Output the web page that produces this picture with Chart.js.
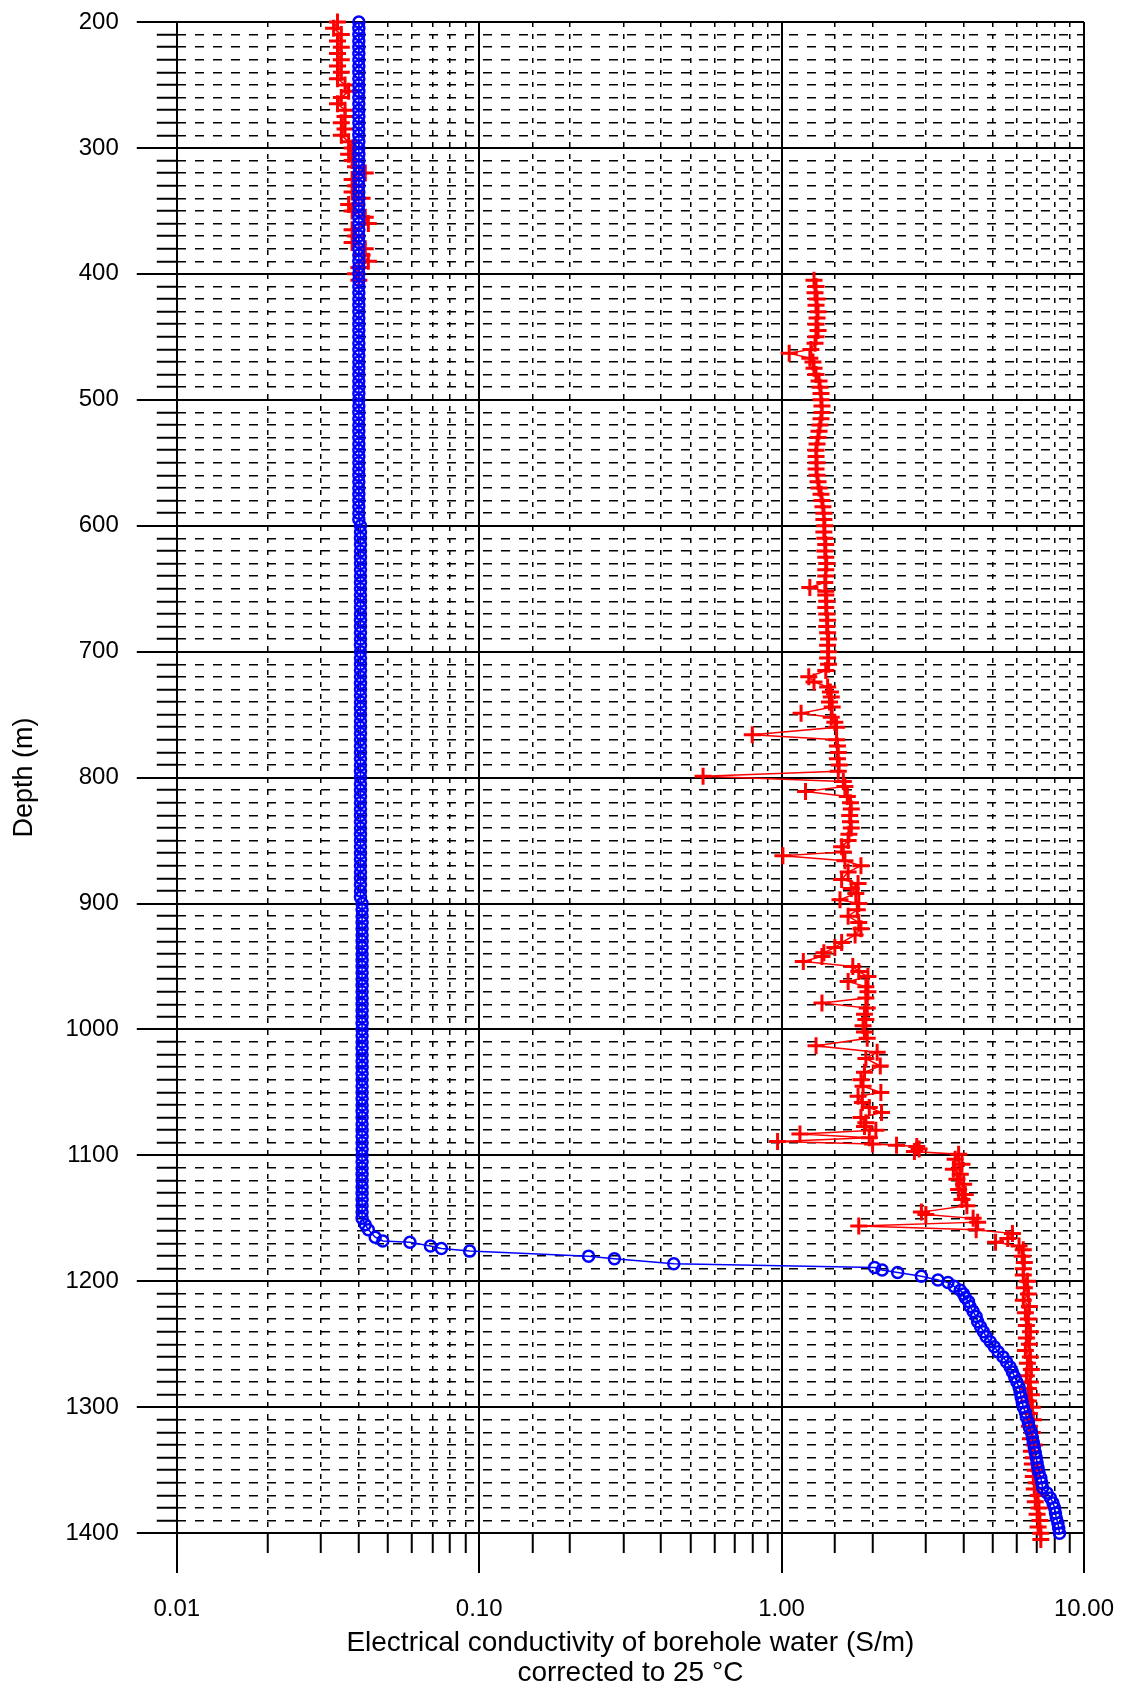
<!DOCTYPE html>
<html>
<head>
<meta charset="utf-8">
<script src="https://cdn.jsdelivr.net/npm/chart.js@4.4.1/dist/chart.umd.min.js"></script>
<style>
  html, body { margin: 0; padding: 0; background: #fff; }
</style>
</head>
<body>
<canvas id="ECCHART" width="1123" height="1686"></canvas>
<script>
const blueUpperDepth = [
  200,205,210,215,220,225,230,235,240,245,250,255,260,265,270,275,280,285,290,295,
  300,305,310,315,320,325,330,335,340,345,350,355,360,365,370,375,380,385,390,395,
  400,405,410,415,420,425,430,435,440,445,450,455,460,465,470,475,480,485,490,495,
  500,505,510,515,520,525,530,535,540,545,550,555,560,565,570,575,580,585,590,595,
  600,605,610,615,620,625,630,635,640,645,650,655,660,665,670,675,680,685,690,695,
  700,705,710,715,720,725,730,735,740,745,750,755,760,765,770,775,780,785,790,795,
  800,805,810,815,820,825,830,835,840,845,850,855,860,865,870,875,880,885,890,895,
  900,905,910,915,920,925,930,935,940,945,950,955,960,965,970,975,980,985,990,995,
  1000,1005,1010,1015,1020,1025,1030,1035,1040,1045,1050,1055,1060,1065,1070,1075,1080,1085,1090,1095,
  1100,1105,1110,1115,1120,1125,1130,1135,1140,1145,1150,1155
];
const blueUpperEC = [
  0.040,0.040,0.040,0.040,0.040,0.040,0.040,0.040,0.040,0.040,0.040,0.040,0.040,0.040,0.040,0.040,0.040,0.040,0.040,0.040,
  0.040,0.040,0.040,0.040,0.040,0.040,0.040,0.040,0.040,0.040,0.040,0.040,0.040,0.040,0.040,0.040,0.040,0.040,0.040,0.040,
  0.040,0.040,0.040,0.040,0.040,0.040,0.040,0.040,0.040,0.040,0.040,0.040,0.040,0.040,0.040,0.040,0.040,0.040,0.040,0.040,
  0.040,0.040,0.040,0.040,0.040,0.040,0.040,0.040,0.040,0.040,0.040,0.040,0.040,0.040,0.040,0.040,0.040,0.040,0.040,0.040,
  0.0405,0.0405,0.0405,0.0405,0.0405,0.0405,0.0405,0.0405,0.0405,0.0405,0.0405,0.0405,0.0405,0.0405,0.0405,0.0405,0.0405,0.0405,0.0405,0.0405,
  0.0405,0.0405,0.0405,0.0405,0.0405,0.0405,0.0405,0.0405,0.0405,0.0405,0.0405,0.0405,0.0405,0.0405,0.0405,0.0405,0.0405,0.0405,0.0405,0.0405,
  0.0405,0.0405,0.0405,0.0405,0.0405,0.0405,0.0405,0.0405,0.0405,0.0405,0.0405,0.0405,0.0405,0.0405,0.0405,0.0405,0.0405,0.0405,0.0405,0.0405,
  0.041,0.041,0.041,0.041,0.041,0.041,0.041,0.041,0.041,0.041,0.041,0.041,0.041,0.041,0.041,0.041,0.041,0.041,0.041,0.041,
  0.041,0.041,0.041,0.041,0.041,0.041,0.041,0.041,0.041,0.041,0.041,0.041,0.041,0.041,0.041,0.041,0.041,0.041,0.041,0.041,
  0.041,0.041,0.041,0.041,0.041,0.041,0.041,0.041,0.041,0.041,0.041,0.042
];
const blueLowerDepth = [
  1159,1165,1168,1169,1172,1174,1176,1180,1182,1186,
  1189,1191,1193,1196,1199,1201,1204,1207,1210,1213,
  1216,1220,1224,1228,1232,1236,1240,1244,1248,1252,
  1256,1260,1264,1268,1272,1276,1280,1284,1288,1292,
  1296,1300,1304,1308,1312,1316,1320,1324,1328,1332,
  1336,1340,1344,1348,1352,1356,1360,1364,1368,1372,
  1376,1380,1384,1388,1392,1396,1400
];
const blueLowerEC = [
  0.043,0.0453,0.048,0.059,0.069,0.075,0.093,0.23,0.28,0.44,
  2.03,2.15,2.42,2.90,3.29,3.55,3.72,3.90,4.00,4.05,
  4.15,4.20,4.30,4.40,4.45,4.55,4.65,4.75,4.90,5.05,
  5.20,5.40,5.55,5.70,5.80,5.90,6.00,6.10,6.15,6.20,
  6.25,6.30,6.40,6.45,6.55,6.60,6.70,6.75,6.80,6.85,
  6.90,6.95,7.00,7.05,7.10,7.20,7.25,7.30,7.55,7.75,
  7.90,8.00,8.05,8.10,8.20,8.25,8.30
];
const redTopDepth = [
  200,205,210,215,220,225,230,235,240,245,
  250,255,260,265,270,275,280,285,290,295,
  300,305,310,315,320,325,330,335,340,345,
  350,355,360,365,370,375,380,385,390,395,
  400,405
];
const redTopEC = [
  0.034,0.033,0.035,0.034,0.035,0.034,0.035,0.034,0.035,0.034,
  0.036,0.037,0.035,0.034,0.036,0.036,0.035,0.036,0.035,0.037,
  0.038,0.037,0.038,0.039,0.042,0.038,0.039,0.038,0.041,0.037,
  0.038,0.042,0.043,0.038,0.039,0.038,0.042,0.041,0.043,0.040,
  0.039,0.040
];
const redMainDepth = [
  405,410,415,420,425,430,435,440,445,450,
  455,460,463,467,470,475,480,485,490,495,
  500,505,510,515,520,525,530,535,540,545,
  550,555,560,565,570,575,580,585,590,595,
  600,605,610,615,620,625,630,635,640,645,
  649,652,655,660,665,670,675,680,685,690,
  695,700,705,710,715,720,724,728,732,736,
  740,744,749,752,756,760,766,770,775,780,
  785,790,795,799,803,807,811,815,820,825,
  830,835,840,845,850,855,859,862,866,870,
  875,881,884,888,892,897,900,905,910,915,
  920,925,931,935,939,942,946,950,954,958,
  962,966,970,975,979,983,988,992,997,1002,
  1007,1013,1018,1023,1029,1034,1040,1045,1050,1053,
  1058,1062,1066,1070,1074,1077,1080,1083,1086,1089,
  1091,1092,1093,1095,1097,1099,1103,1107,1111,1115,
  1119,1123,1127,1131,1135,1140,1145,1147,1150,1153,
  1156,1159,1162,1166,1169,1172,1175,1180,1185,1190,
  1195,1200,1205,1210,1215,1220,1225,1230,1235,1240,
  1245,1250,1255,1260,1265,1270,1275,1280,1285,1290,
  1295,1300,1305,1310,1315,1320,1325,1330,1335,1340,
  1345,1350,1355,1360,1365,1370,1375,1380,1385,1390,
  1395,1400,1405
];
const redMainEC = [
  1.28,1.30,1.29,1.31,1.30,1.32,1.31,1.30,1.32,1.30,
  1.29,1.25,1.06,1.24,1.27,1.28,1.30,1.33,1.34,1.35,
  1.35,1.36,1.36,1.35,1.34,1.33,1.32,1.31,1.30,1.30,
  1.31,1.30,1.31,1.32,1.33,1.35,1.36,1.37,1.38,1.38,
  1.39,1.38,1.39,1.40,1.39,1.40,1.41,1.40,1.40,1.39,
  1.24,1.40,1.40,1.41,1.40,1.41,1.42,1.41,1.42,1.43,
  1.42,1.43,1.42,1.43,1.40,1.23,1.28,1.42,1.45,1.46,
  1.44,1.47,1.16,1.46,1.50,1.52,0.80,1.52,1.53,1.54,
  1.53,1.55,1.54,0.55,1.60,1.62,1.20,1.65,1.69,1.70,
  1.68,1.69,1.70,1.67,1.66,1.58,1.60,1.01,1.62,1.83,
  1.66,1.58,1.79,1.70,1.76,1.56,1.80,1.78,1.66,1.80,
  1.83,1.75,1.58,1.50,1.38,1.36,1.18,1.72,1.80,1.93,
  1.66,1.90,1.93,1.90,1.36,1.92,1.88,1.90,1.86,1.88,
  1.92,1.30,2.07,1.90,2.12,1.88,1.83,1.86,2.13,1.79,
  1.85,1.95,2.14,1.83,1.90,1.88,2.05,1.15,1.95,0.97,
  2.00,2.40,2.80,2.85,2.75,3.85,3.75,3.95,3.70,3.90,
  3.80,4.00,3.85,4.05,3.95,4.10,2.90,3.00,4.30,4.45,
  1.80,4.40,5.80,5.60,5.10,6.10,6.30,6.25,6.35,6.30,
  6.30,6.50,6.35,6.55,6.30,6.60,6.40,6.55,6.45,6.65,
  6.45,6.60,6.40,6.65,6.50,6.70,6.45,6.65,6.55,6.70,
  6.55,6.75,6.60,6.80,6.60,6.75,6.65,6.85,6.70,6.80,
  6.75,6.90,6.80,6.95,6.85,7.05,6.90,7.10,7.00,7.15,
  7.05,7.20,7.20
];

const FONT = "'Liberation Sans', Arial, sans-serif";
Chart.defaults.font.family = FONT;
Chart.defaults.color = '#000';

const isDecade = v => Math.abs(Math.log10(v) - Math.round(Math.log10(v))) < 1e-6;
const isHundred = v => Math.round(v) % 100 === 0;
const toPoints = (depths, values) => depths.map((d, i) => ({x: values[i], y: d}));

const redStyle = {
  showLine: true,
  borderColor: 'rgb(255, 0, 0)',
  borderWidth: 1.5,
  pointStyle: 'cross',
  pointRadius: 8.5,
  pointBorderWidth: 3,
  pointBorderColor: 'rgb(255, 0, 0)',
  clip: false,
  order: 1
};

const ctx = document.getElementById('ECCHART');

const ec_chart = new Chart(ctx, {
  type: 'scatter',
  data: {
    datasets: [{
      label: 'EC profile',
      data: toPoints(blueUpperDepth.concat(blueLowerDepth), blueUpperEC.concat(blueLowerEC)),
      showLine: true,
      borderColor: 'rgb(0, 0, 255)',
      borderWidth: 1.5,
      pointStyle: 'circle',
      pointRadius: 5.5,
      pointBorderWidth: 2.5,
      pointBorderColor: 'rgb(0, 0, 255)',
      pointBackgroundColor: 'rgba(0, 0, 0, 0)',
      clip: false,
      order: 0
    }, Object.assign({
      label: 'EC samples upper',
      data: toPoints(redTopDepth, redTopEC)
    }, redStyle), Object.assign({
      label: 'EC samples',
      data: toPoints(redMainDepth, redMainEC)
    }, redStyle)]
  },
  options: {
    responsive: false,
    animation: false,
    layout: {
      autoPadding: false,
      padding: {top: 22, right: 39, left: 0, bottom: 0}
    },
    plugins: {
      legend: {display: false},
      tooltip: {enabled: false}
    },
    scales: {
      x: {
        type: 'logarithmic',
        position: 'bottom',
        min: 0.01,
        max: 10,
        border: {
          display: false,
          dash: c => (c.tick && !isDecade(c.tick.value)) ? [5, 7] : []
        },
        grid: {
          color: '#000',
          lineWidth: c => (c.tick && isDecade(c.tick.value)) ? 2 : 1.5,
          // tick marks: 40px at decades, 20px otherwise (rest of the length is a gap)
          tickLength: 53,
          tickColor: '#000',
          tickWidth: 2,
          tickBorderDash: c => (c.tick && isDecade(c.tick.value)) ? [40, 100] : [20, 100],
          tickBorderDashOffset: 0
        },
        ticks: {
          autoSkip: false,
          maxRotation: 0,
          minRotation: 0,
          padding: 9,
          font: {size: 24},
          callback: v => isDecade(v) ? v.toFixed(2) : ''
        },
        title: {
          display: true,
          text: ['Electrical conductivity of borehole water (S/m)', 'corrected to 25 \u00B0C'],
          font: {size: 28, lineHeight: 30 / 28},
          padding: {top: -5, bottom: -2}
        }
      },
      y: {
        type: 'linear',
        reverse: true,
        min: 200,
        max: 1400,
        border: {
          display: false,
          dash: c => (c.tick && !isHundred(c.tick.value)) ? [9, 9] : []
        },
        grid: {
          color: '#000',
          lineWidth: c => (c.tick && isHundred(c.tick.value)) ? 2 : 1.5,
          tickLength: 40,
          tickColor: '#000',
          tickWidth: 2,
          // minor ticks: only the half next to the axis
          tickBorderDash: c => (c.tick && isHundred(c.tick.value)) ? [] : [20, 20],
          tickBorderDashOffset: c => (c.tick && isHundred(c.tick.value)) ? 0 : 20
        },
        ticks: {
          stepSize: 10,
          autoSkip: false,
          padding: 18,
          font: {size: 24, lineHeight: 0.3},
          callback: v => isHundred(v) ? String(v) : ''
        },
        title: {
          display: true,
          text: 'Depth (m)',
          font: {size: 27},
          padding: {top: 8, bottom: 7}
        }
      }
    }
  }
});
</script>
</body>
</html>
